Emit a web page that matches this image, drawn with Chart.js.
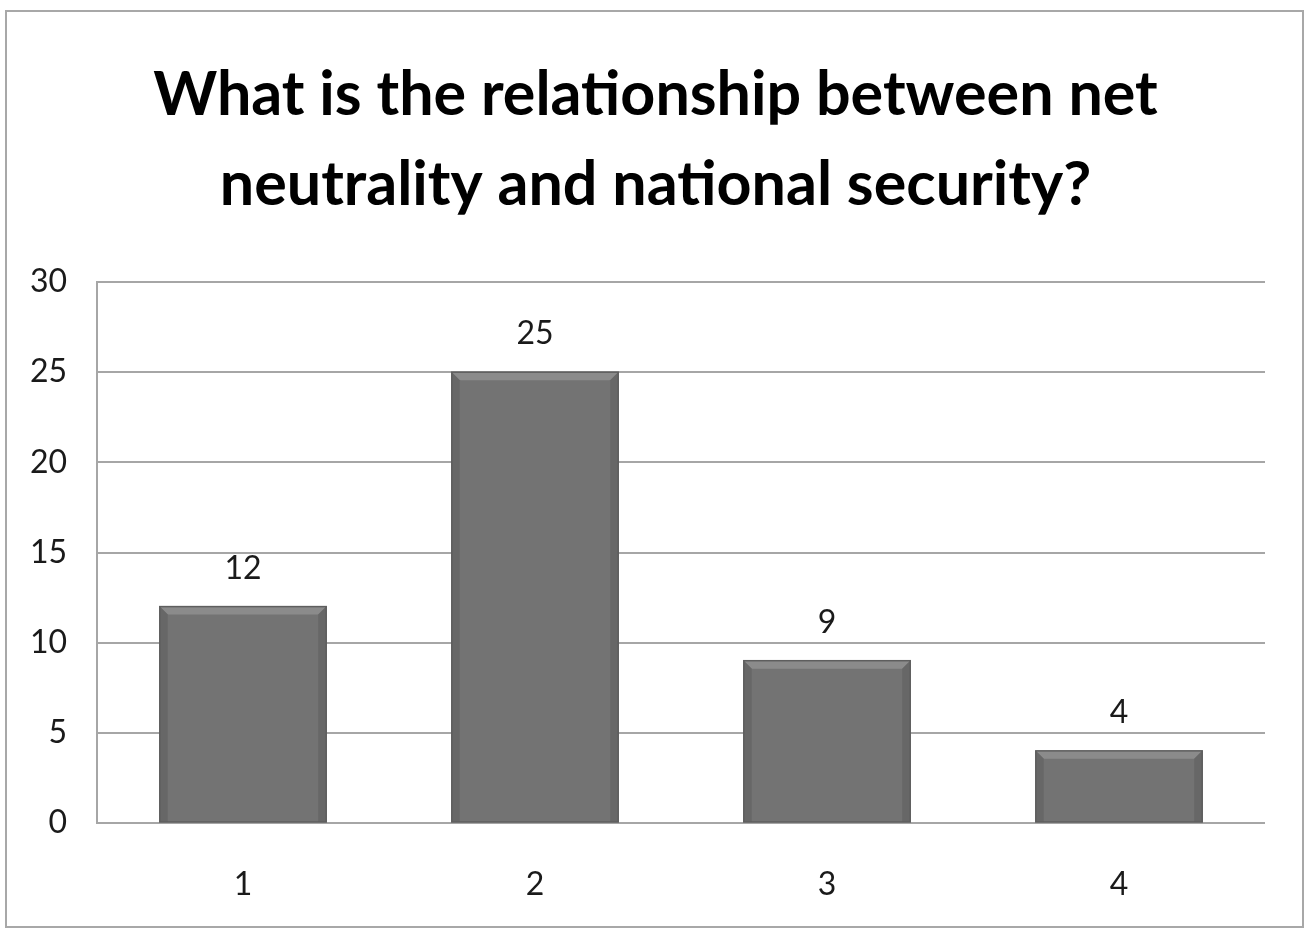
<!DOCTYPE html>
<html>
<head>
<meta charset="utf-8">
<script src="https://cdn.jsdelivr.net/npm/chart.js@4/dist/chart.umd.min.js"></script>
<style>
  html, body { margin: 0; padding: 0; background: #fff; }
  #wrap { position: relative; width: 1305px; height: 929px; overflow: hidden; }
  #frame { position: absolute; left: 5px; top: 10px; width: 1299px; height: 918px; border: 2px solid #a8a8a8; box-sizing: border-box; }
  canvas { position: absolute; left: 0; top: 0; }
</style>
</head>
<body>
<div id="wrap">
  <div id="frame"></div>
  <canvas id="chart" width="1305" height="929"></canvas>
</div>
<script>
var categories = ['1', '2', '3', '4'];
var answers = [12, 25, 9, 4];
var titleLines = ['What is the relationship between net', 'neutrality and national security?'];
var yMax = 30;
var yStep = 5;

var fontFamily = 'Lato, "Open Sans", sans-serif';

// title centred on the whole frame, not on the padded chart box
var frameTitle = {
    id: 'frameTitle',
    afterDraw: function (chart) {
        var ctx = chart.ctx;
        ctx.save();
        ctx.font = 'bold 61px ' + fontFamily;
        ctx.fillStyle = '#000';
        ctx.textAlign = 'center';
        ctx.textBaseline = 'alphabetic';
        titleLines.forEach(function (line, i) {
            ctx.fillText(line, chart.width / 2 + 3, 115 + i * 90);
        });
        ctx.restore();
    }
};

// light top bevel and dark side edges, like the old office 3-D bars
var bevelBars = {
    id: 'bevelBars',
    afterDatasetsDraw: function (chart) {
        var ctx = chart.ctx;
        chart.getDatasetMeta(0).data.forEach(function (bar) {
            var p = bar.getProps(['x', 'y', 'width', 'base'], true);
            var l = p.x - p.width / 2, r = p.x + p.width / 2, t = p.y, b = p.base;
            var e = 8;
            ctx.save();
            ctx.fillStyle = '#8b8b8b';
            ctx.beginPath();
            ctx.moveTo(l, t); ctx.lineTo(r, t); ctx.lineTo(r - e, t + e); ctx.lineTo(l + e, t + e);
            ctx.closePath(); ctx.fill();
            ctx.fillStyle = '#676767';
            ctx.beginPath();
            ctx.moveTo(l, t); ctx.lineTo(l + e, t + e); ctx.lineTo(l + e, b); ctx.lineTo(l, b);
            ctx.closePath(); ctx.fill();
            ctx.beginPath();
            ctx.moveTo(r, t); ctx.lineTo(r - e, t + e); ctx.lineTo(r - e, b); ctx.lineTo(r, b);
            ctx.closePath(); ctx.fill();
            ctx.strokeStyle = '#5e5e5e';
            ctx.lineWidth = 1.5;
            ctx.strokeRect(l, t, p.width, b - t);
            ctx.restore();
        });
    }
};

var valueLabels = {
    id: 'valueLabels',
    afterDatasetsDraw: function (chart) {
        var ctx = chart.ctx;
        var ds = chart.data.datasets[0];
        ctx.save();
        ctx.font = '32px ' + fontFamily;
        ctx.fillStyle = '#1a1a1a';
        ctx.textAlign = 'center';
        ctx.textBaseline = 'middle';
        chart.getDatasetMeta(0).data.forEach(function (bar, i) {
            ctx.fillText(String(ds.data[i]), bar.x, bar.y - 38);
        });
        ctx.restore();
    }
};

var ctx = document.getElementById('chart').getContext('2d');
new Chart(ctx, {
    type: 'bar',
    data: {
        labels: categories,
        datasets: [{
            data: answers,
            backgroundColor: '#737373',
            borderWidth: 0,
            categoryPercentage: 1,
            barPercentage: 0.57
        }]
    },
    options: {
        responsive: false,
        animation: false,
        layout: { padding: { left: 0, right: 40, top: 282, bottom: 0 } },
        plugins: {
            legend: { display: false },
            tooltip: { enabled: false },
            title: { display: false }
        },
        scales: {
            x: {
                grid: { display: false, drawTicks: false },
                border: { display: false },
                ticks: { color: '#1a1a1a', font: { family: fontFamily, size: 32 }, padding: 42 },
                afterFit: function (scale) { scale.height = 106; }
            },
            y: {
                min: 0,
                max: yMax,
                ticks: { stepSize: yStep, color: '#1a1a1a', font: { family: fontFamily, size: 32 }, padding: 30 },
                grid: { color: '#a6a6a6', lineWidth: 2, drawTicks: false },
                border: { color: '#a6a6a6', width: 2 },
                afterFit: function (scale) { scale.width = 97; }
            }
        }
    },
    plugins: [frameTitle, bevelBars, valueLabels]
});
</script>
</body>
</html>
